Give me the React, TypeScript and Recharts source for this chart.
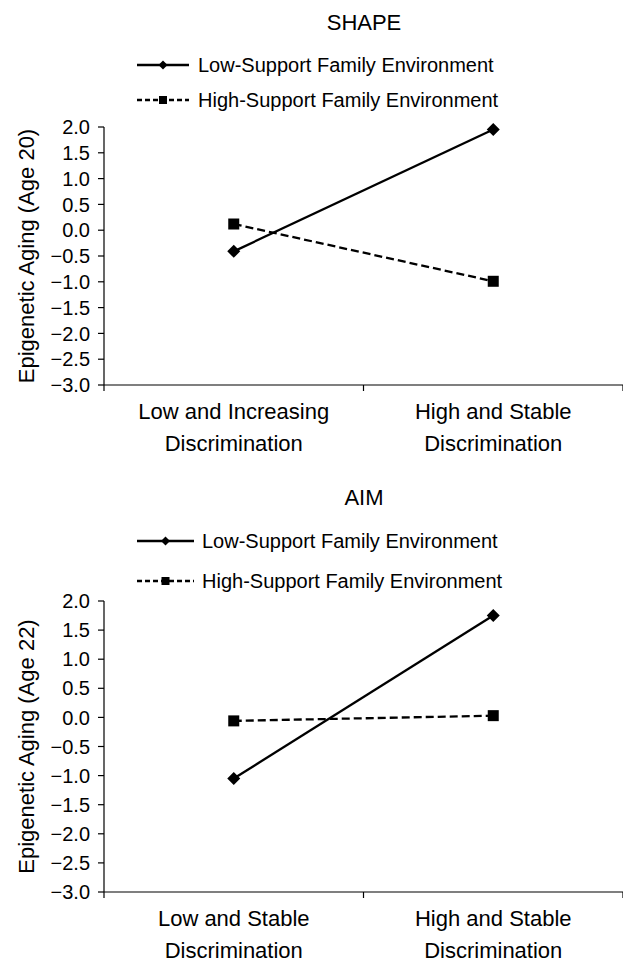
import { LineChart, Line, XAxis, YAxis, Label } from 'recharts';

const seriesNames = ['Low-Support Family Environment', 'High-Support Family Environment'];
const yTicks = [2, 1.5, 1, 0.5, 0, -0.5, -1, -1.5, -2, -2.5, -3];
const xTicks = [0, 0.5, 1, 1.5, 2];

const shapeCategories = ['Low and Increasing\nDiscrimination', 'High and Stable\nDiscrimination'];
const shapeLowSupport = [-0.41, 1.95];
const shapeHighSupport = [0.12, -0.99];

const aimCategories = ['Low and Stable\nDiscrimination', 'High and Stable\nDiscrimination'];
const aimLowSupport = [-1.05, 1.75];
const aimHighSupport = [-0.06, 0.03];

const FONT = "'Liberation Sans', Arial, sans-serif";
const INK = '#000';

const fmt = (v: number) => (v < 0 ? '\u2212' + Math.abs(v).toFixed(1) : v.toFixed(1));

const diamondPath = (cx: number, cy: number, r: number) =>
    `M${cx},${cy - r}L${cx + r},${cy}L${cx},${cy + r}L${cx - r},${cy}Z`;

interface PanelProps {
    title: string;
    yLabel: string;
    categories: string[];
    low: number[];
    high: number[];
    top: number;
    height: number;
    plotTop: number;
    axisHeight: number;
    titleY: number;
    rowY: [number, number];
    legendLine: [number, number];
    textX: number;
}

function Panel(p: PanelProps) {
    const data = p.categories.map((c, i) => ({ x: i + 0.5, low: p.low[i], high: p.high[i] }));
    const markX = (p.legendLine[0] + p.legendLine[1]) / 2;

    // integer ticks = short marks at the group boundaries, half ticks = group labels
    const renderXTick = (props: any) => {
        const { x, y, payload } = props;
        const v = payload.value;
        if (Number.isInteger(v)) {
            return <line x1={x} x2={x} y1={y} y2={y + 6} stroke={INK} strokeWidth={1.2} />;
        }
        const lines = p.categories[Math.floor(v)].split('\n');
        return (
            <text x={x} y={y} textAnchor="middle" fontFamily={FONT} fontSize={22} fill={INK}>
                {lines.map((l, k) => (
                    <tspan key={k} x={x} dy={k === 0 ? 34 : 31.5}>{l}</tspan>
                ))}
            </text>
        );
    };

    return (
        <div style={{ position: 'absolute', left: 0, top: p.top, width: 623, height: p.height }}>
            <LineChart
                width={623}
                height={p.height}
                data={data}
                margin={{ top: p.plotTop, right: 0, bottom: 0, left: 0 }}
            >
                <XAxis
                    dataKey="x"
                    type="number"
                    domain={[0, 2]}
                    ticks={xTicks}
                    interval={0}
                    height={p.axisHeight}
                    tickSize={0}
                    tickMargin={0}
                    tickLine={false}
                    axisLine={{ stroke: INK, strokeWidth: 1.2 }}
                    tick={renderXTick}
                />
                <YAxis
                    type="number"
                    domain={[-3, 2]}
                    ticks={yTicks}
                    interval={0}
                    width={104}
                    tickSize={6}
                    tickMargin={8}
                    tickFormatter={fmt}
                    axisLine={{ stroke: INK, strokeWidth: 1.2 }}
                    tickLine={{ stroke: INK, strokeWidth: 1.2 }}
                    tick={{ fill: INK, fontSize: 20, fontFamily: FONT }}
                >
                    <Label
                        content={(lp: any) => {
                            const vb = lp.viewBox || { y: 0, height: 0 };
                            const cy = vb.y + vb.height / 2;
                            return (
                                <text
                                    x={26}
                                    y={cy}
                                    transform={`rotate(-90, 26, ${cy})`}
                                    textAnchor="middle"
                                    dominantBaseline="central"
                                    fontFamily={FONT}
                                    fontSize={22}
                                    fill={INK}
                                >
                                    {p.yLabel}
                                </text>
                            );
                        }}
                    />
                </YAxis>
                <Line
                    dataKey="low"
                    name={seriesNames[0]}
                    stroke={INK}
                    strokeWidth={2.3}
                    isAnimationActive={false}
                    dot={(d: any) => <path key={`l${d.index}`} d={diamondPath(d.cx, d.cy, 6.5)} fill={INK} />}
                    activeDot={false}
                />
                <Line
                    dataKey="high"
                    name={seriesNames[1]}
                    stroke={INK}
                    strokeWidth={2.3}
                    strokeDasharray="8 4"
                    isAnimationActive={false}
                    dot={(d: any) => (
                        <rect key={`h${d.index}`} x={d.cx - 5.5} y={d.cy - 5.5} width={11} height={11} fill={INK} />
                    )}
                    activeDot={false}
                />
            </LineChart>
            <svg
                width={623}
                height={p.plotTop}
                style={{ position: 'absolute', left: 0, top: 0, pointerEvents: 'none' }}
            >
                <text x={364} y={p.titleY} textAnchor="middle" dominantBaseline="central" fontFamily={FONT} fontSize={22} fill={INK}>
                    {p.title}
                </text>
                <line x1={p.legendLine[0]} x2={p.legendLine[1]} y1={p.rowY[0]} y2={p.rowY[0]} stroke={INK} strokeWidth={2.3} />
                <path d={diamondPath(markX, p.rowY[0], 4.5)} fill={INK} />
                <text x={p.textX} y={p.rowY[0]} dominantBaseline="central" fontFamily={FONT} fontSize={20} fill={INK}>
                    {seriesNames[0]}
                </text>
                <line x1={p.legendLine[0]} x2={p.legendLine[1]} y1={p.rowY[1]} y2={p.rowY[1]} stroke={INK} strokeWidth={2.3} strokeDasharray="5 3" />
                <rect x={markX - 4} y={p.rowY[1] - 4} width={8} height={8} fill={INK} />
                <text x={p.textX} y={p.rowY[1]} dominantBaseline="central" fontFamily={FONT} fontSize={20} fill={INK}>
                    {seriesNames[1]}
                </text>
            </svg>
        </div>
    );
}

export default function App() {
    return (
        <div style={{ position: 'absolute', left: 0, top: 0, width: 623, height: 964, background: '#fff', overflow: 'hidden' }}>
            <Panel
                title="SHAPE"
                yLabel="Epigenetic Aging (Age 20)"
                categories={shapeCategories}
                low={shapeLowSupport}
                high={shapeHighSupport}
                top={0}
                height={470}
                plotTop={127}
                axisHeight={85}
                titleY={22}
                rowY={[65, 100]}
                legendLine={[137, 189]}
                textX={198}
            />
            <Panel
                title="AIM"
                yLabel="Epigenetic Aging (Age 22)"
                categories={aimCategories}
                low={aimLowSupport}
                high={aimHighSupport}
                top={480}
                height={484}
                plotTop={121}
                axisHeight={72}
                titleY={17}
                rowY={[61, 101]}
                legendLine={[137, 194]}
                textX={202}
            />
        </div>
    );
}
